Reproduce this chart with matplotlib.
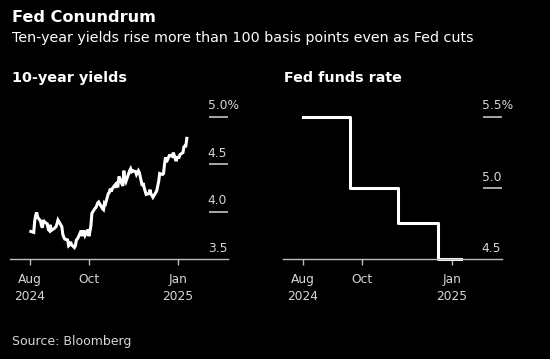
import pandas as pd
import matplotlib.pyplot as plt

# 10-year Treasury yield, daily close (%)
yield_dates = [
    '2024-08-02', '2024-08-05', '2024-08-06', '2024-08-07', '2024-08-08', '2024-08-09',
    '2024-08-12', '2024-08-13', '2024-08-14', '2024-08-15', '2024-08-16', '2024-08-19',
    '2024-08-20', '2024-08-21', '2024-08-22', '2024-08-23', '2024-08-26', '2024-08-27',
    '2024-08-28', '2024-08-29', '2024-08-30', '2024-09-03', '2024-09-04', '2024-09-05',
    '2024-09-06', '2024-09-09', '2024-09-10', '2024-09-11', '2024-09-12', '2024-09-13',
    '2024-09-16', '2024-09-17', '2024-09-18', '2024-09-19', '2024-09-20', '2024-09-23',
    '2024-09-24', '2024-09-25', '2024-09-26', '2024-09-27', '2024-09-30', '2024-10-01',
    '2024-10-02', '2024-10-03', '2024-10-04', '2024-10-07', '2024-10-08', '2024-10-09',
    '2024-10-10', '2024-10-11', '2024-10-15', '2024-10-16', '2024-10-17', '2024-10-18',
    '2024-10-21', '2024-10-22', '2024-10-23', '2024-10-24', '2024-10-25', '2024-10-28',
    '2024-10-29', '2024-10-30', '2024-10-31', '2024-11-01', '2024-11-04', '2024-11-05',
    '2024-11-06', '2024-11-07', '2024-11-08', '2024-11-12', '2024-11-13', '2024-11-14',
    '2024-11-15', '2024-11-18', '2024-11-19', '2024-11-20', '2024-11-21', '2024-11-22',
    '2024-11-25', '2024-11-26', '2024-11-27', '2024-11-29', '2024-12-02', '2024-12-03',
    '2024-12-04', '2024-12-05', '2024-12-06', '2024-12-09', '2024-12-10', '2024-12-11',
    '2024-12-12', '2024-12-13', '2024-12-16', '2024-12-17', '2024-12-18', '2024-12-19',
    '2024-12-20', '2024-12-23', '2024-12-24', '2024-12-26', '2024-12-27', '2024-12-30',
    '2024-12-31', '2025-01-02', '2025-01-03', '2025-01-06', '2025-01-07', '2025-01-08',
    '2025-01-09', '2025-01-10',
]
yield_values = [
    3.79, 3.78, 3.90, 3.96, 3.99, 3.94,
    3.90, 3.85, 3.83, 3.91, 3.89, 3.87,
    3.81, 3.80, 3.86, 3.80, 3.82, 3.83,
    3.84, 3.87, 3.91, 3.84, 3.76, 3.73,
    3.71, 3.70, 3.64, 3.65, 3.68, 3.65,
    3.62, 3.64, 3.70, 3.71, 3.73, 3.80,
    3.74, 3.79, 3.79, 3.75, 3.81, 3.74,
    3.79, 3.85, 3.98, 4.03, 4.04, 4.06,
    4.09, 4.10, 4.03, 4.02, 4.09, 4.08,
    4.19, 4.20, 4.24, 4.21, 4.24, 4.28,
    4.25, 4.29, 4.28, 4.37, 4.29, 4.27,
    4.43, 4.33, 4.31, 4.43, 4.45, 4.42,
    4.43, 4.42, 4.39, 4.41, 4.43, 4.41,
    4.27, 4.30, 4.25, 4.18, 4.19, 4.23,
    4.18, 4.17, 4.15, 4.20, 4.22, 4.27,
    4.32, 4.40, 4.39, 4.40, 4.50, 4.57,
    4.52, 4.59, 4.59, 4.58, 4.62, 4.53,
    4.57, 4.57, 4.60, 4.62, 4.68, 4.69,
    4.69, 4.77,
]

# Fed funds target rate, upper bound (%)
fed_dates = ['2024-08-01', '2024-09-18', '2024-11-07', '2024-12-18', '2025-01-10']
fed_values = [5.50, 5.00, 4.75, 4.50, 4.50]

tick_dates = ['2024-08-01', '2024-10-01', '2025-01-01']
tick_labels = ['Aug\n2024', 'Oct', 'Jan\n2025']

yield_ticks = [3.5, 4.0, 4.5, 5.0]
yield_tick_labels = ['3.5', '4.0', '4.5', '5.0%']
fed_ticks = [4.5, 5.0, 5.5]
fed_tick_labels = ['4.5', '5.0', '5.5%']

BG = 'black'
TICK_COLOR = '#d6d6d6'
AXIS_COLOR = '#bdbdbd'

fig = plt.figure(figsize=(5.5, 3.59), dpi=100, facecolor=BG)


def style_panel(ax, ticks, labels, ylim):
    ax.set_facecolor(BG)
    ax.set_xlim(pd.Timestamp('2024-07-11 12:00'), pd.Timestamp('2025-02-21 12:00'))
    ax.set_ylim(*ylim)
    for s in ['top', 'left', 'right']:
        ax.spines[s].set_visible(False)
    ax.spines['bottom'].set_color(AXIS_COLOR)
    ax.spines['bottom'].set_linewidth(1.0)
    ax.set_xticks(pd.to_datetime(tick_dates))
    ax.set_xticklabels(tick_labels, color=TICK_COLOR, fontsize=8.8, linespacing=1.45)
    ax.tick_params(axis='x', length=4, width=1, color=AXIS_COLOR, pad=6)
    # short dashes at the right edge mark the gridlines
    ax.yaxis.tick_right()
    ax.set_yticks(ticks[1:])
    ax.tick_params(axis='y', direction='in', length=13.5, width=1.1,
                   color=TICK_COLOR, labelright=False)
    for v, lab in zip(ticks, labels):
        ax.annotate(lab, xy=(1, v), xycoords=('axes fraction', 'data'),
                    xytext=(-14.5, 3), textcoords='offset points',
                    ha='left', va='bottom', color=TICK_COLOR, fontsize=8.8)


ax1 = fig.add_axes([10 / 550, 1 - 259 / 359, 218 / 550, 142.5 / 359])
ax1.plot(pd.to_datetime(yield_dates), yield_values, color='white', lw=2.2,
         solid_joinstyle='miter')
style_panel(ax1, yield_ticks, yield_tick_labels, (3.5, 5.0))

ax2 = fig.add_axes([283 / 550, 1 - 259 / 359, 219 / 550, 142.5 / 359])
ax2.plot(pd.to_datetime(fed_dates), fed_values, color='white', lw=2.2,
         drawstyle='steps-post', clip_on=False)
style_panel(ax2, fed_ticks, fed_tick_labels, (4.5, 5.5))

fig.text(12 / 550, 1 - 17 / 359, 'Fed Conundrum', color='white', fontsize=11.6,
         fontweight='bold', va='center', ha='left')
fig.text(12 / 550, 1 - 38 / 359,
         'Ten-year yields rise more than 100 basis points even as Fed cuts',
         color='white', fontsize=10.3, va='center', ha='left')
fig.text(12 / 550, 1 - 78 / 359, '10-year yields', color='white', fontsize=10.4,
         fontweight='bold', va='center', ha='left')
fig.text(284 / 550, 1 - 78 / 359, 'Fed funds rate', color='white', fontsize=10.3,
         fontweight='bold', va='center', ha='left')
fig.text(12 / 550, 1 - 341 / 359, 'Source: Bloomberg', color='#d6d6d6',
         fontsize=9.0, va='center', ha='left')

fig.savefig('out.png', dpi=100, facecolor=BG)
